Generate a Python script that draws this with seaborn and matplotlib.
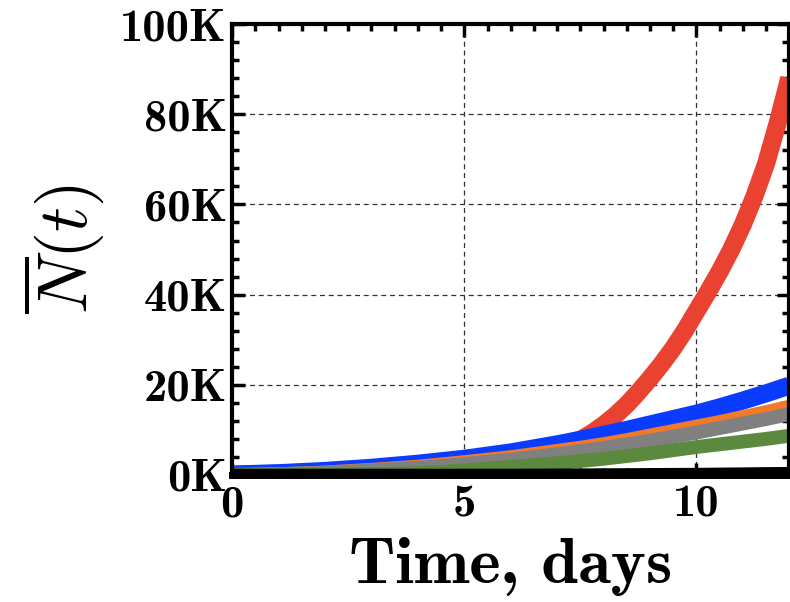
import numpy as np
import pandas as pd
import matplotlib
matplotlib.use("Agg")
import matplotlib.pyplot as plt
from matplotlib.ticker import MultipleLocator, FuncFormatter
import seaborn as sns

# values, in thousands
days = [0, 1, 2, 3, 4, 5, 6, 7, 7.5, 8, 8.5, 9, 9.5, 10, 10.5, 11, 11.5, 12]
blue = [0.1, 0.4, 0.9, 1.6, 2.5, 3.6, 5.0, 6.8, 7.8, 8.9, 10.0, 11.2, 12.4, 13.6, 15.0, 16.5, 18.1, 19.8]
orange = [0.1, 0.3, 0.7, 1.3, 2.0, 3.0, 4.1, 5.5, 6.2, 7.0, 7.9, 8.9, 9.9, 10.9, 11.9, 13.0, 14.1, 15.3]
gray = [0.05, 0.2, 0.5, 1.0, 1.6, 2.4, 3.4, 4.6, 5.3, 6.0, 6.8, 7.6, 8.5, 9.4, 10.4, 11.4, 12.4, 13.5]
green = [0, 0, 0.05, 0.15, 0.4, 1.0, 1.8, 2.6, 3.1, 3.6, 4.2, 4.8, 5.5, 6.2, 6.8, 7.4, 8.0, 8.7]
black = [0, 0, 0, 0, 0, 0, 0, 0.05, 0.07, 0.1, 0.12, 0.15, 0.18, 0.2, 0.25, 0.3, 0.35, 0.4]

# red takes off after day 7.5, read more densely
red_days = [0, 1, 2, 3, 4, 5, 6, 7, 7.5, 7.75, 8, 8.25, 8.5, 8.75, 9, 9.25, 9.5,
            9.75, 10, 10.25, 10.5, 10.75, 11, 11.25, 11.5, 11.75, 12]
red = [0.05, 0.3, 0.7, 1.4, 2.2, 3.3, 4.7, 6.5, 7.8, 9.3, 11.1, 13.2, 15.6, 18.4,
       21.4, 24.6, 28.1, 32.0, 36.3, 40.6, 45.1, 50.0, 55.5, 61.8, 69.0, 78.0, 88.0]

series = [
    ("red", red_days, red, "#ea4230", 13),
    ("blue", days, blue, "#0a3cff", 13),
    ("orange", days, orange, "#f07a2a", 9),
    ("gray", days, gray, "#808080", 10),
    ("green", days, green, "#5b8a3e", 10),
    ("black", days, black, "#000000", 9),
]

sns.set_style("ticks")
plt.rcParams["font.family"] = ["cmb10", "DejaVu Serif"]
plt.rcParams["mathtext.fontset"] = "cm"
plt.rcParams["axes.unicode_minus"] = False
for k in ["text.color", "axes.labelcolor", "xtick.color", "ytick.color", "axes.edgecolor"]:
    plt.rcParams[k] = "black"

fig = plt.figure(figsize=(7.9, 6.02), dpi=100)
ax = fig.add_axes([0.294, 0.211, 0.705, 0.749])

for name, x, vals, col, lw in series:
    df = pd.DataFrame({"t": x, "n": np.array(vals) * 1000})
    sns.lineplot(data=df, x="t", y="n", ax=ax, color=col, linewidth=lw,
                 solid_capstyle="butt", solid_joinstyle="round")

ax.set_xlim(0, 12)
ax.set_ylim(0, 100000)
ax.xaxis.set_major_locator(MultipleLocator(5))
ax.xaxis.set_minor_locator(MultipleLocator(0.5))
ax.yaxis.set_major_locator(MultipleLocator(20000))
ax.yaxis.set_minor_locator(MultipleLocator(4000))
ax.yaxis.set_major_formatter(FuncFormatter(lambda v, p: f"{int(round(v / 1000))}K"))

ax.grid(True, which="major", linestyle=(0, (4, 3)), color="#333333", linewidth=0.9)
ax.tick_params(which="both", direction="in", top=True, right=True, labelsize=33.5)
ax.tick_params(axis="y", pad=4)
ax.tick_params(axis="x", pad=7)
ax.tick_params(which="major", length=9, width=2.5)
ax.tick_params(which="minor", length=5, width=2.5)
for s in ax.spines.values():
    s.set_linewidth(3)
ax.spines["bottom"].set_linewidth(5)

ax.set_xlabel("Time, days", fontsize=48, labelpad=8)
ax.set_ylabel(r"$\overline{N}(t)$", fontsize=50, labelpad=10)

fig.savefig("out.png", dpi=100)
